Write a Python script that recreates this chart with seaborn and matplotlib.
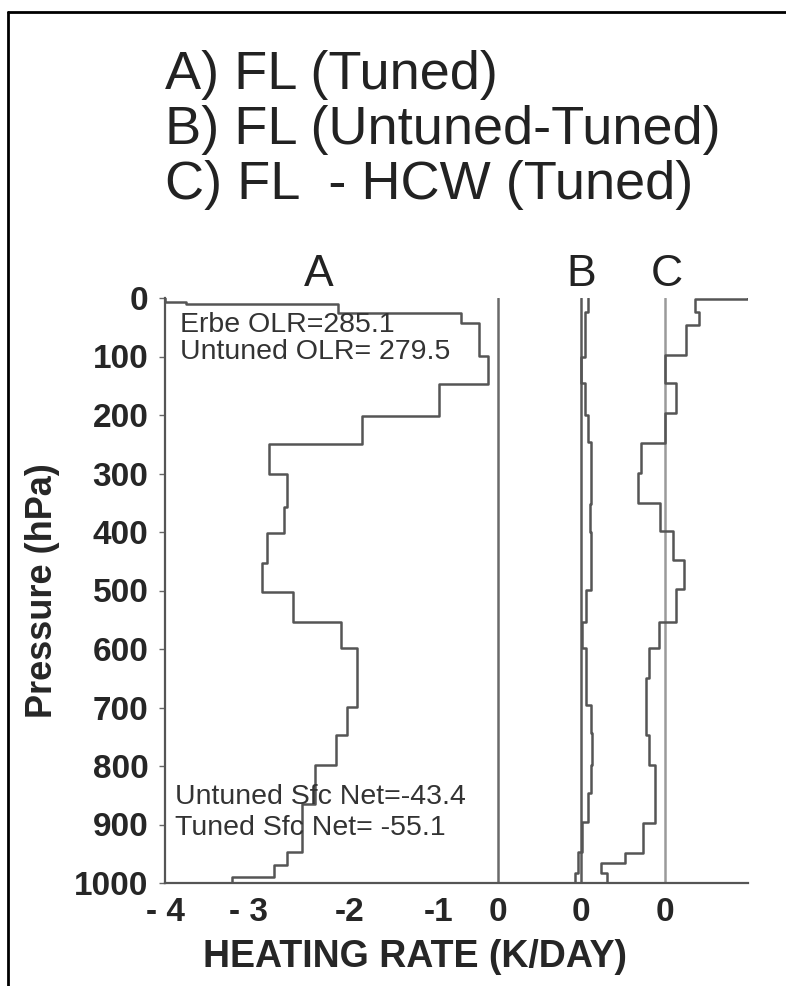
import numpy as np
import pandas as pd
import matplotlib
matplotlib.use("Agg")
import matplotlib.pyplot as plt
import matplotlib.transforms as mtransforms
import seaborn as sns

# layer edges (hPa) and heating rate per layer (K/day)
a_edges = [0, 6, 10, 26, 43, 99, 147, 202, 250, 301, 357, 402, 453, 503, 554,
           598, 699, 747, 799, 865, 947, 970, 989, 1000]
a_vals = [-4.0, -3.75, -1.92, -0.44, -0.23, -0.12, -0.71, -1.64, -2.75, -2.53,
          -2.57, -2.78, -2.83, -2.46, -1.89, -1.70, -1.81, -1.95, -2.20, -2.36,
          -2.53, -2.69, -3.19]

b_edges = [0, 24, 101, 145, 200, 246, 352, 400, 499, 554, 598, 696, 744, 799,
           846, 896, 947, 983, 1000]
b_vals = [0.08, 0.04, 0.0, 0.04, 0.08, 0.11, 0.10, 0.12, 0.05, 0.01, 0.05, 0.11,
          0.13, 0.12, 0.08, 0.01, -0.04, -0.08]

c_edges = [0, 2, 24, 46, 97, 145, 197, 248, 299, 350, 398, 448, 497, 554, 598,
           650, 747, 799, 897, 948, 966, 983, 1000]
c_vals = [1.0, 0.36, 0.41, 0.26, 0.0, 0.13, 0.0, -0.29, -0.32, -0.06, 0.10, 0.23,
          0.13, -0.07, -0.19, -0.22, -0.19, -0.12, -0.26, -0.48, -0.77, -0.69]

panels = ["A", "B", "C"]
offsets = {"A": 0.0, "B": 1.0, "C": 2.0}  # each panel gets its own zero
pressure_ticks = list(range(0, 1001, 100))
rate_ticks = [-4, -3, -2, -1, 0, 1, 2]
rate_labels = ["- 4", "- 3", "-2", "-1", "0", "0", "0"]

titles = ["A) FL (Tuned)", "B) FL (Untuned-Tuned)", "C) FL  - HCW (Tuned)"]


def step_profile(edges, vals, panel):
    rows = []
    for i, v in enumerate(vals):
        rows.append((v, edges[i], panel))
        rows.append((v, edges[i + 1], panel))
    return pd.DataFrame(rows, columns=["rate", "pressure", "panel"])


df = pd.concat([
    step_profile(a_edges, a_vals, "A"),
    step_profile(b_edges, b_vals, "B"),
    step_profile(c_edges, c_vals, "C"),
], ignore_index=True)
df["x"] = df["rate"] + df["panel"].map(offsets)

sns.set_theme(style="white")
plt.rcParams["font.family"] = ["Liberation Sans", "DejaVu Sans"]

fig = plt.figure(figsize=(7.86, 9.86), dpi=100)
ax = fig.add_axes([165 / 786, 1 - 883 / 986, 583 / 786, 585 / 986])

line_col = "#555555"
for p in panels:
    sub = df[df["panel"] == p]
    sns.lineplot(data=sub, x="x", y="pressure", sort=False, estimator=None,
                 color=line_col, lw=1.8, ax=ax)

zero_cols = {"A": "#6a6a6a", "B": "#5a5a5a", "C": "#9a9a9a"}
for p in panels:
    ax.axvline(offsets[p], color=zero_cols[p], lw=1.8, zorder=1)

ax.set_xlim(-4, 3)
ax.set_ylim(1000, 0)
ax.set_yticks(pressure_ticks)
ax.set_yticklabels([str(t) for t in pressure_ticks], fontsize=24, fontweight="bold")
ax.set_xticks(rate_ticks)
ax.set_xticklabels(rate_labels, fontsize=24, fontweight="bold")
ax.tick_params(axis="y", length=4, width=1, color="#666666", pad=8, left=True)
ax.tick_params(axis="x", length=0, pad=10)

# the scan has the -2 and -1 labels set a little to the right of their ticks
shifts = {"-2": 18, "-1": 24}
for lab in ax.get_xticklabels():
    dx = shifts.get(lab.get_text(), 0)
    if dx:
        lab.set_transform(lab.get_transform() +
                          mtransforms.ScaledTranslation(dx / 100, 0, fig.dpi_scale_trans))

for s in ["top", "right"]:
    ax.spines[s].set_visible(False)
for s in ["left", "bottom"]:
    ax.spines[s].set_color("#555555")
    ax.spines[s].set_linewidth(1.6)

ax.set_xlabel("HEATING RATE (K/DAY)", fontsize=27, fontweight="bold", labelpad=8)
ax.xaxis.label.set_x(0.429)
ax.set_ylabel("Pressure (hPa)", fontsize=26, fontweight="bold", labelpad=10)

# panel letters above the axes
trans = mtransforms.blended_transform_factory(ax.transData, ax.transAxes)
letter_x = {"A": -2.15, "B": 1.0, "C": 2.02}
for p in panels:
    ax.text(letter_x[p], 1.005, p, transform=trans, ha="center", va="bottom",
            fontsize=32, color="#222222")

# annotations
note_kw = dict(fontsize=20.5, color="#333333", ha="left", va="center")
ax.text(-3.82, 46, "Erbe OLR=285.1", **note_kw)
ax.text(-3.82, 92, "Untuned OLR= 279.5", **note_kw)
ax.text(-3.88, 853, "Untuned Sfc Net=-43.4", **note_kw)
ax.text(-3.88, 906, "Tuned Sfc Net= -55.1", **note_kw)

# title lines
for i, t in enumerate(titles):
    fig.text(165 / 786, 1 - (75 + 55 * i) / 986, t, fontsize=39, color="#222222",
             ha="left", va="center")

# scan frame: left and top edges
fx = 8 / 786
fy = 1 - 12 / 986
fig.add_artist(plt.Line2D([fx, fx], [0, fy], color="black", lw=2))
fig.add_artist(plt.Line2D([fx, 1], [fy, fy], color="black", lw=2))

fig.savefig("out.png", dpi=100)
